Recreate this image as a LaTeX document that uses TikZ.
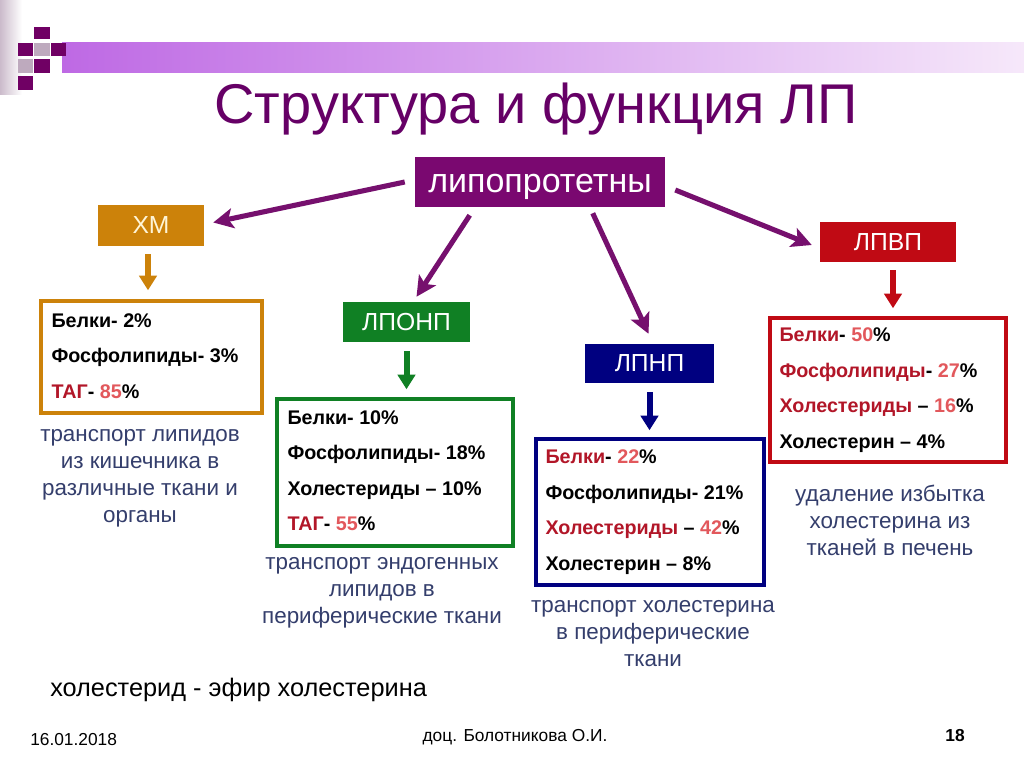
\documentclass[tikz,border=0pt]{standalone}
\usepackage{fontspec}
\usepackage{graphicx}
\setmainfont{Liberation Sans}
\usetikzlibrary{arrows.meta,calc}
\definecolor{ttl}{RGB}{102,0,102}
\definecolor{lpc}{RGB}{122,8,112}
\definecolor{arc}{RGB}{118,16,110}
\definecolor{hmc}{RGB}{204,130,10}
\definecolor{vlc}{RGB}{16,128,36}
\definecolor{ldc}{RGB}{0,0,128}
\definecolor{hdc}{RGB}{192,10,20}
\definecolor{dred}{RGB}{178,22,40}
\definecolor{lred}{RGB}{226,88,92}
\definecolor{descc}{RGB}{52,62,108}
\definecolor{barL}{RGB}{190,105,228}
\definecolor{barR}{RGB}{246,232,250}
\definecolor{sqc}{RGB}{112,0,100}
\definecolor{sqg}{RGB}{190,170,190}
\newcommand{\dr}[1]{\textcolor{dred}{#1}}
\newcommand{\lr}[1]{\textcolor{lred}{#1}}
\begin{document}
\begin{tikzpicture}[x=0.75pt,y=-0.75pt,
  hdr/.style={inner sep=0pt, text=white, font=\fontsize{18.5}{20}\selectfont},
  cbox/.style={draw=#1, line width=2.6pt, inner sep=0pt, fill=white},
  ctext/.style={anchor=west, align=left, inner sep=0pt, font=\bfseries\fontsize{14.8}{26.6}\selectfont},
  dtext/.style={align=center, inner sep=0pt, text=descc, font=\fontsize{16.8}{20.3}\selectfont},
  parr/.style={draw=arc, line width=3.8pt, -{Stealth[length=15pt,width=15pt,inset=3.5pt]}},
  darr/.style={draw=#1, line width=4.5pt, -{Triangle[length=11pt,width=13pt]}}]
\useasboundingbox (0,0) rectangle (1024,767);
\fill[white] (0,0) rectangle (1024,767);
% decoration
\shade[left color=sqg!80, right color=white] (0,0) rectangle (22,95);
\shade[left color=barL, right color=barR] (62,43) rectangle (1024,73);
\fill[sqc] (34,27) rectangle ++(16,12);
\fill[sqc] (18,43) rectangle ++(15,13);
\fill[sqg] (34,43) rectangle ++(16,13);
\fill[sqc] (51,43) rectangle ++(15,13);
\fill[sqg] (18,59) rectangle ++(15,14);
\fill[sqc] (34,59) rectangle ++(16,14);
\fill[sqc] (18,76) rectangle ++(15,14);
% title
\node[text=ttl, inner sep=0pt, font=\fontsize{42}{46}\selectfont] (title) at (536,109) {Структура и функция ЛП};
% header boxes
\node[hdr, fill=lpc, minimum width=187.5pt, minimum height=37.5pt, text height=16pt, text depth=0pt, font=\fontsize{25.5}{28}\selectfont] (lp) at (540,182) {липопротетны};
\node[hdr, fill=hmc, minimum width=79.5pt, minimum height=30.75pt, text={rgb,255:red,255;green,245;blue,215}] (hm) at (151,225.5) {ХМ};
\node[hdr, fill=vlc, minimum width=95.25pt, minimum height=30pt] (lponp) at (406.5,322) {ЛПОНП};
\node[hdr, fill=ldc, minimum width=96.75pt, minimum height=29.25pt] (lpnp) at (649.5,363.5) {ЛПНП};
\node[hdr, fill=hdc, minimum width=102pt, minimum height=30pt] (lpvp) at (888,242) {ЛПВП};
% content boxes
\node[cbox=hmc, minimum width=165.75pt, minimum height=84pt] (c1) at (151.5,357) {};
\node[cbox=vlc, minimum width=177pt, minimum height=110.25pt] (c2) at (395,472.5) {};
\node[cbox=ldc, minimum width=171pt, minimum height=109.5pt] (c3) at (650,512) {};
\node[cbox=hdc, minimum width=177pt, minimum height=108pt] (c4) at (888,390) {};
\node[ctext] (t1) at ($(c1.west)+(12,-1)$) {Белки- 2\%\\Фосфолипиды- 3\%\\\dr{ТАГ}- \lr{85}\%};
\node[ctext] (t2) at ($(c2.west)+(12,-2)$) {Белки- 10\%\\Фосфолипиды- 18\%\\Холестериды – 10\%\\\dr{ТАГ}- \lr{55}\%};
\node[ctext] (t3) at ($(c3.west)+(11,0)$) {\dr{Белки}- \lr{22}\%\\Фосфолипиды- 21\%\\\dr{Холестериды} – \lr{42}\%\\Холестерин – 8\%};
\node[ctext] (t4) at ($(c4.west)+(11,0)$) {\dr{Белки}- \lr{50}\%\\\dr{Фосфолипиды}- \lr{27}\%\\\dr{Холестериды} – \lr{16}\%\\Холестерин – 4\%};
% descriptions
\node[dtext] (d1) at (140,478.5) {транспорт липидов\\из кишечника в\\различные ткани и\\органы};
\node[dtext] (d2) at (382,593) {транспорт эндогенных\\липидов в\\периферические ткани};
\node[dtext] (d3) at (653,633.5) {транспорт холестерина\\в периферические\\ткани};
\node[dtext] (d4) at (890,520.5) {удаление избытка\\холестерина из\\тканей в печень};
% arrows from main node
\draw[parr] ($(lp.west)+(-10,0)$) -- ($(hm.east)+(9,-3)$);
\draw[parr] ($(lp.south west)+(55,8)$) -- ($(lponp.north)+(10,-5)$);
\draw[parr] ($(lp.south west)+(178,6)$) -- ($(lpnp.north)+(-1,-10)$);
\draw[parr] ($(lp.east)+(10,8)$) -- ($(lpvp.west)+(-8,3)$);
% down arrows
\draw[darr=hmc] ($(hm.south)+(-3,8)$) -- ($(hm.south |- c1.north)+(-3,-9)$);
\draw[darr=vlc] ($(lponp.south)+(0,9)$) -- ($(lponp.south |- c2.north)+(0,-8)$);
\draw[darr=ldc] ($(lpnp.south)+(0,9)$) -- ($(lpnp.south |- c3.north)+(0,-7)$);
\draw[darr=hdc] ($(lpvp.south)+(5,8)$) -- ($(lpvp.south |- c4.north)+(5,-8)$);
% notes
\node[anchor=west, inner sep=0pt, font=\fontsize{19}{22}\selectfont] (note) at (50,690) {холестерид - эфир холестерина};
\node[anchor=west, inner sep=0pt, font=\fontsize{13}{15}\selectfont] (date) at (30,740) {16.01.2018};
\node[inner sep=0pt, font=\fontsize{13}{15}\selectfont] (author) at (515,737) {доц. Болотникова О.И.};
\node[inner sep=0pt, font=\bfseries\fontsize{13}{15}\selectfont] (page) at (955,736) {18};
\end{tikzpicture}
\end{document}
